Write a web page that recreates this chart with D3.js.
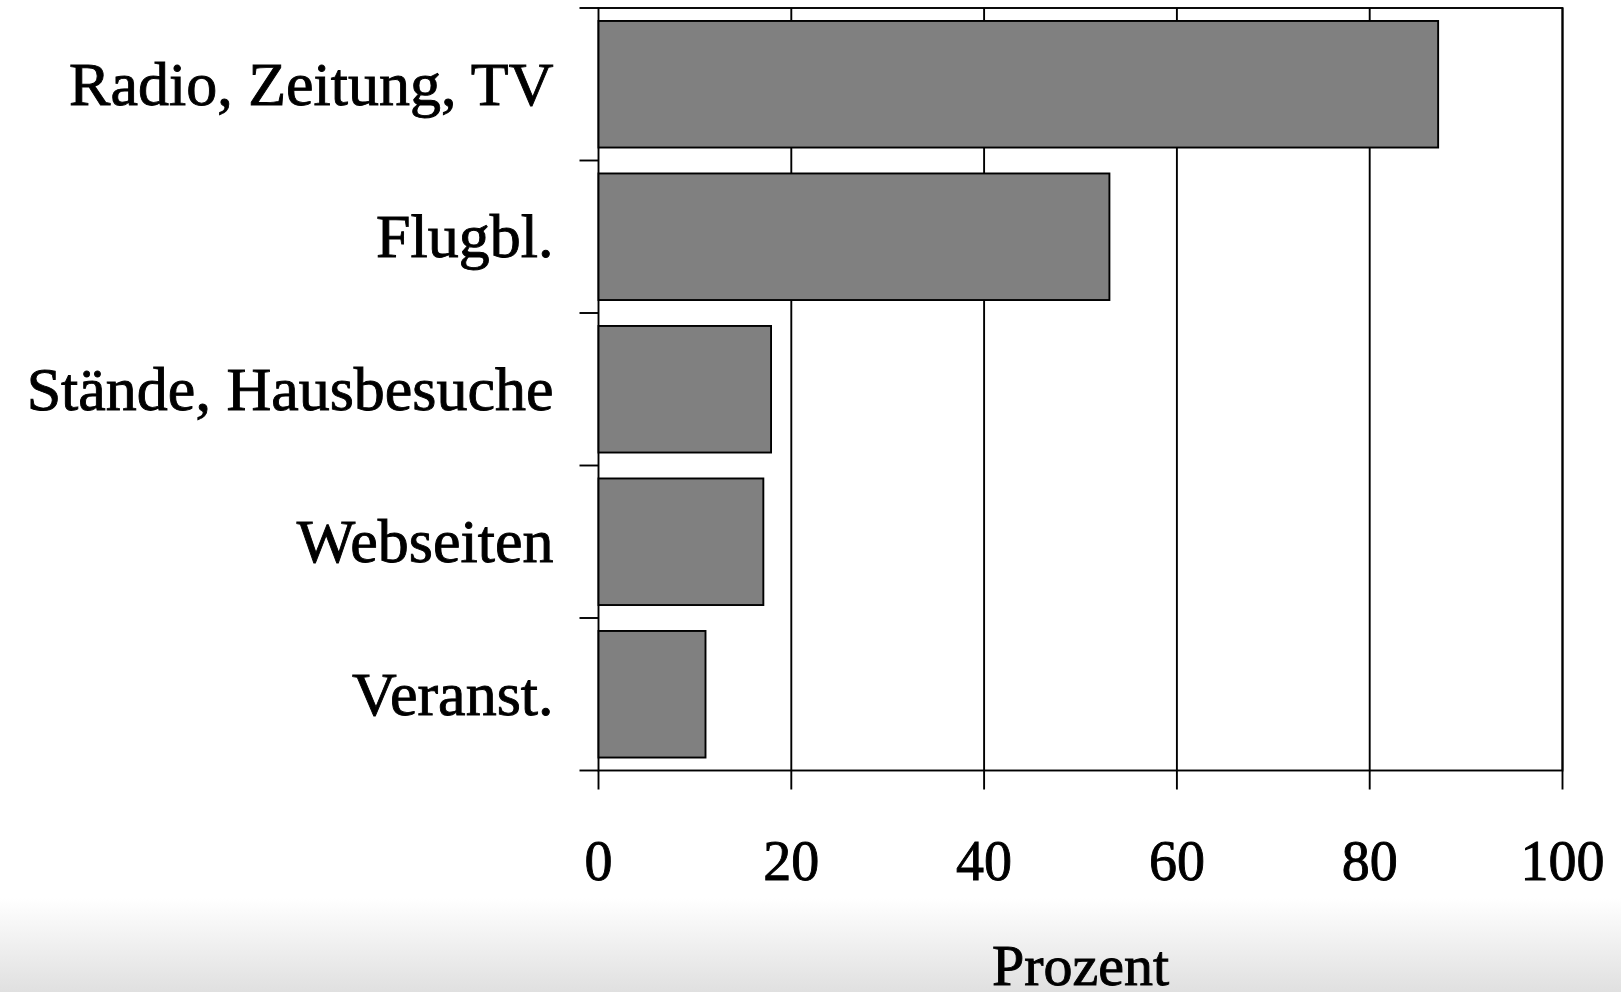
<!DOCTYPE html>
<html>
<head>
<meta charset="utf-8">
<script src="https://cdn.jsdelivr.net/npm/d3@7"></script>
<style>
  html, body { margin: 0; padding: 0; background: #fff; }
  svg { display: block; }
  text { font-family: "Liberation Serif", "DejaVu Serif", serif; fill: #000; stroke: #000; stroke-width: 0.9px; }
</style>
</head>
<body>
<svg id="chart" width="1621" height="992"></svg>
<script>
// data
var categories = ["Radio, Zeitung, TV", "Flugbl.", "Stände, Hausbesuche", "Webseiten", "Veranst."];
var values = [87.1, 53.0, 17.9, 17.1, 11.1];
var xTicks = [0, 20, 40, 60, 80, 100];
var xTitle = "Prozent";

var svg = d3.select("#chart");
var W = 1621, H = 992;
// note: "top" is window.top, so use other names
var plotLeft = 598.5, plotRight = 1562.5, plotTop = 8, plotBottom = 770.5;
var lw = 1.9;

// page shadow at the bottom
var defs = svg.append("defs");
var grad = defs.append("linearGradient").attr("id", "shade")
    .attr("x1", 0).attr("y1", 0).attr("x2", 0).attr("y2", 1);
grad.append("stop").attr("offset", "0%").attr("stop-color", "#ffffff");
grad.append("stop").attr("offset", "100%").attr("stop-color", "#e0e0e0");
svg.append("rect").attr("x", 0).attr("y", 898).attr("width", W).attr("height", H - 898)
    .attr("fill", "url(#shade)");

var x = d3.scaleLinear().domain([0, 100]).range([plotLeft, plotRight]);
var y = d3.scaleBand().domain(categories).range([plotTop, plotBottom]).paddingInner(0.17).paddingOuter(0.085);
var yb = d3.scaleBand().domain(categories).range([plotTop, plotBottom]);

var g = svg.append("g");

// vertical grid lines
g.selectAll("line.grid").data(xTicks.slice(1)).enter().append("line")
    .attr("x1", function (d) { return x(d); }).attr("x2", function (d) { return x(d); })
    .attr("y1", plotTop).attr("y2", plotBottom)
    .attr("stroke", "#000").attr("stroke-width", lw);

// frame
g.append("rect").attr("x", plotLeft).attr("y", plotTop)
    .attr("width", plotRight - plotLeft).attr("height", plotBottom - plotTop)
    .attr("fill", "none").attr("stroke", "#000").attr("stroke-width", lw);

// bars
g.selectAll("rect.bar").data(values).enter().append("rect")
    .attr("class", "bar")
    .attr("x", x(0))
    .attr("y", function (d, i) { return y(categories[i]); })
    .attr("width", function (d) { return x(d) - x(0); })
    .attr("height", y.bandwidth())
    .attr("fill", "#808080").attr("stroke", "#000").attr("stroke-width", lw);

// left ticks at band boundaries
var bounds = categories.map(function (c) { return yb(c); }).concat([plotBottom]);
g.selectAll("line.ytick").data(bounds).enter().append("line")
    .attr("x1", plotLeft - 19).attr("x2", plotLeft)
    .attr("y1", function (d) { return d; }).attr("y2", function (d) { return d; })
    .attr("stroke", "#000").attr("stroke-width", lw);

// bottom ticks
g.selectAll("line.xtick").data(xTicks).enter().append("line")
    .attr("x1", function (d) { return x(d); }).attr("x2", function (d) { return x(d); })
    .attr("y1", plotBottom).attr("y2", plotBottom + 19)
    .attr("stroke", "#000").attr("stroke-width", lw);

// category labels
g.selectAll("text.cat").data(categories).enter().append("text")
    .attr("x", plotLeft - 45)
    .attr("y", function (d) { return yb(d) + yb.bandwidth() / 2; })
    .attr("dy", "0.33em")
    .attr("text-anchor", "end")
    .attr("font-size", 62)
    .text(function (d) { return d; });

// tick labels
g.selectAll("text.xlab").data(xTicks).enter().append("text")
    .attr("x", function (d) { return x(d); })
    .attr("y", 880)
    .attr("text-anchor", "middle")
    .attr("font-size", 56)
    .text(function (d) { return d; });

g.append("text").attr("x", (plotLeft + plotRight) / 2).attr("y", 985)
    .attr("text-anchor", "middle").attr("font-size", 58)
    .text(xTitle);
</script>
</body>
</html>
